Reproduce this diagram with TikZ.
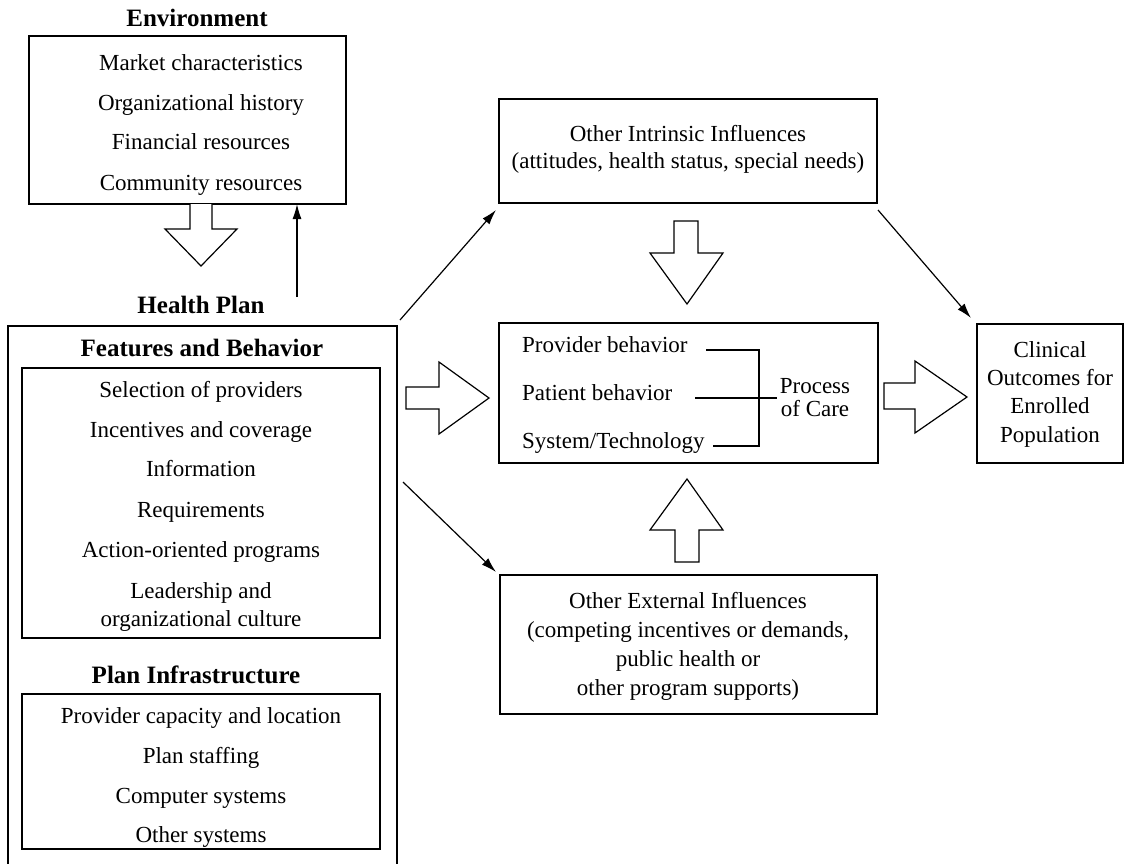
\documentclass[tikz,border=0pt]{standalone}
\usepackage{fontspec}
\setmainfont{Liberation Serif}
\usetikzlibrary{arrows.meta,calc}
\begin{document}
\begin{tikzpicture}[x=1pt,y=-1pt,
  box/.style={draw,line width=1.2pt,inner sep=0pt,outer sep=0pt},
  txt/.style={anchor=base,inner sep=0pt,font=\fontsize{23}{27}\selectfont},
  txtl/.style={anchor=base west,inner sep=0pt,font=\fontsize{23}{27}\selectfont},
  hd/.style={anchor=base,inner sep=0pt,font=\fontsize{25}{29}\selectfont\bfseries},
  blk/.style={draw,line width=1.2pt,fill=white,line join=miter},
  thin/.style={line width=1.2pt},
  conn/.style={line width=1.2pt,-{Latex[length=15pt,width=9pt]}}]
\useasboundingbox (0,0) rectangle (1125,863);
\fill[white] (0,0) rectangle (1125,863);

% ---------- Environment ----------
\node[hd] (envt) at (197,26) {Environment};
\node[box,minimum width=317pt,minimum height=168pt] (env) at (187.5,120) {};
\node[txt] (e1) at (201,70) {Market characteristics};
\node[txt] (e2) at (201,110) {Organizational history};
\node[txt] (e3) at (201,149) {Financial resources};
\node[txt] (e4) at (201,190) {Community resources};

% block arrow down from environment
\draw[blk] (190,204) -- (190,229) -- (165,229) -- (201,266) -- (237,229) -- (212,229) -- (212,204);
% thin arrow up to environment
\coordinate (upst) at (297,297);
\draw[conn] (upst) -- (upst |- env.south);

% ---------- Health Plan ----------
\node[hd] (hpt) at (201,313) {Health Plan};
\coordinate (hpsw) at (8,866);
\coordinate (hpnw) at (8,326);
\coordinate (hpne) at (397,326);
\coordinate (hpse) at (397,866);
\draw[thin] (hpsw) -- (hpnw) -- (hpne) -- (hpse);

\node[hd] (fbt) at (202,356) {Features and Behavior};
\node[box,minimum width=358pt,minimum height=270pt] (fb) at (201,503) {};
\node[txt] (f1) at (201,397) {Selection of providers};
\node[txt] (f2) at (201,437) {Incentives and coverage};
\node[txt] (f3) at (201,476) {Information};
\node[txt] (f4) at (201,517) {Requirements};
\node[txt] (f5) at (201,557) {Action-oriented programs};
\node[txt] (f6) at (201,598) {Leadership and};
\node[txt] (f7) at (201,626) {organizational culture};

\node[hd] (pit) at (196,683) {Plan Infrastructure};
\node[box,minimum width=358pt,minimum height=155pt] (pi) at (201,771.5) {};
\node[txt] (p1) at (201,723) {Provider capacity and location};
\node[txt] (p2) at (201,763) {Plan staffing};
\node[txt] (p3) at (201,803) {Computer systems};
\node[txt] (p4) at (201,842) {Other systems};

% ---------- Other Intrinsic Influences ----------
\node[box,minimum width=378pt,minimum height=104pt] (intr) at (688,151) {};
\node[txt] (i1) at (688,141) {Other Intrinsic Influences};
\node[txt] (i2) at (688,168) {(attitudes, health status, special needs)};

% block arrow down into process
\draw[blk] (674,221) -- (698,221) -- (698,253) -- (723,253) -- (687,304) -- (650,253) -- (674,253) -- cycle;

% ---------- Process of care ----------
\node[box,minimum width=379pt,minimum height=140pt] (proc) at (688.5,393) {};
\node[txtl] (c1) at (522,352) {Provider behavior};
\node[txtl] (c2) at (522,400) {Patient behavior};
\node[txtl] (c3) at (522,448) {System/Technology};
\node[txt] (poc1) at (815,393) {Process};
\node[txt] (poc2) at (815,416) {of Care};
\coordinate (b1) at (706,350);
\coordinate (b2) at (759,350);
\coordinate (b3) at (759,446);
\coordinate (b4) at (713,446);
\coordinate (b5) at (695,398);
\coordinate (b6) at (777,398);
\draw[thin] (b1) -- (b2) -- (b3) -- (b4);
\draw[thin] (b5) -- (b6);

% block arrow up into process
\draw[blk] (675,562) -- (675,530) -- (650,530) -- (687,479) -- (723,530) -- (699,530) -- (699,562) -- cycle;

% ---------- Other External Influences ----------
\node[box,minimum width=377pt,minimum height=139pt] (ext) at (688.5,644.5) {};
\node[txt] (x1) at (688,608) {Other External Influences};
\node[txt] (x2) at (688,637) {(competing incentives or demands,};
\node[txt] (x3) at (688,666) {public health or};
\node[txt] (x4) at (688,695) {other program supports)};

% ---------- Clinical outcomes ----------
\node[box,minimum width=146pt,minimum height=139pt] (clin) at (1050,393.5) {};
\node[txt] (o1) at (1050,357) {Clinical};
\node[txt] (o2) at (1050,385) {Outcomes for};
\node[txt] (o3) at (1050,413) {Enrolled};
\node[txt] (o4) at (1050,442) {Population};

% block arrows right
\draw[blk] (406,387) -- (439,387) -- (439,362) -- (489,398) -- (439,434) -- (439,409) -- (406,409) -- cycle;
\draw[blk] (884,383) -- (915,383) -- (915,361) -- (967,397) -- (915,433) -- (915,409) -- (884,409) -- cycle;

% thin diagonal connectors
\coordinate (d1s) at (400,320);
\coordinate (d1e) at (496,210);
\coordinate (d2s) at (403,482);
\coordinate (d2e) at (496,572);
\coordinate (d3s) at (878,210);
\coordinate (d3e) at (971,318);
\draw[conn] (d1s) -- (d1e);
\draw[conn] (d2s) -- (d2e);
\draw[conn] (d3s) -- (d3e);
\end{tikzpicture}
\end{document}
